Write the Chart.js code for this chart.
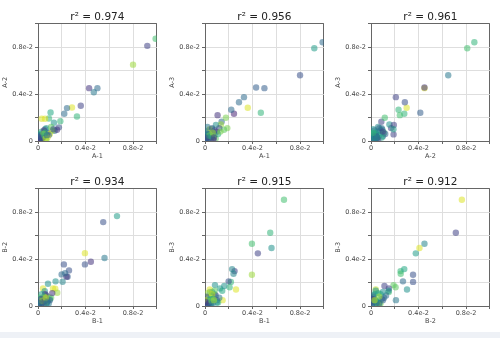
<!DOCTYPE html>
<html>
<head>
<meta charset="utf-8">
<script src="https://cdn.jsdelivr.net/npm/chart.js@4.4.1/dist/chart.umd.min.js"></script>
<style>
  html, body { margin: 0; padding: 0; background: #fff; }
  #page { position: relative; width: 500px; height: 338px; overflow: hidden; }
  .panel { position: absolute; width: 160px; height: 160px; }
  #band { position: absolute; left: 0; top: 332px; width: 500px; height: 6px; background: #eef1f6; }
</style>
</head>
<body>
<div id="page">
  <div class="panel" style="left:0px;top:0px"><canvas id="c0" width="160" height="160"></canvas></div>
  <div class="panel" style="left:167px;top:0px"><canvas id="c1" width="160" height="160"></canvas></div>
  <div class="panel" style="left:333px;top:0px"><canvas id="c2" width="160" height="160"></canvas></div>
  <div class="panel" style="left:0px;top:165px"><canvas id="c3" width="160" height="160"></canvas></div>
  <div class="panel" style="left:167px;top:165px"><canvas id="c4" width="160" height="160"></canvas></div>
  <div class="panel" style="left:333px;top:165px"><canvas id="c5" width="160" height="160"></canvas></div>
  <div id="band"></div>
</div>
<script>
// values are in units of 1e-2
const a1 = [0.99, 0.92, 0.80, 0.50, 0.43, 0.47, 0.36, 0.286, 0.244, 0.221, 0.328, 0.106, 0.14, 0.176, 0.188, 0.134, 0.16, 0.092, 0.031, 0.059,
  0.02, 0.05, 0.08, 0.03, 0.10, 0.06, 0.01, 0.04, 0.07, 0.12, 0.09, 0.02, 0.11, 0.05, 0.08, 0.03, 0.06, 0.13, 0.01, 0.07,
  0.01, 0.02, 0.03, 0.04, 0.015, 0.025, 0.045, 0.035, 0.005, 0.055, 0.065, 0.075];
const a2 = [0.87, 0.81, 0.65, 0.45, 0.45, 0.415, 0.30, 0.285, 0.28, 0.232, 0.209, 0.243, 0.087, 0.116, 0.169, 0.155, 0.096, 0.192, 0.19, 0.189,
  0.03, 0.04, 0.07, 0.08, 0.06, 0.10, 0.01, 0.02, 0.11, 0.09, 0.05, 0.06, 0.12, 0.09, 0.03, 0.05, 0.07, 0.10, 0.04, 0.01,
  0.02, 0.01, 0.04, 0.03, 0.05, 0.015, 0.06, 0.025, 0.035, 0.045, 0.02, 0.05];
const a3 = [0.84, 0.79, 0.56, 0.45, 0.455, 0.24, 0.283, 0.33, 0.232, 0.266, 0.373, 0.22, 0.164, 0.198, 0.11, 0.141, 0.096, 0.136, 0.056, 0.10,
  0.02, 0.06, 0.05, 0.09, 0.08, 0.04, 0.03, 0.10, 0.07, 0.11, 0.02, 0.12, 0.06, 0.03, 0.09, 0.05, 0.11, 0.08, 0.07, 0.01,
  0.015, 0.035, 0.02, 0.05, 0.03, 0.06, 0.01, 0.045, 0.025, 0.04, 0.07, 0.03];

const b1 = [0.665, 0.549, 0.56, 0.395, 0.445, 0.395, 0.218, 0.261, 0.199, 0.249, 0.24, 0.207, 0.148, 0.084, 0.042, 0.126, 0.145, 0.162, 0.057, 0.228,
  0.02, 0.05, 0.08, 0.03, 0.10, 0.06, 0.01, 0.04, 0.07, 0.11, 0.09, 0.02, 0.12, 0.05, 0.08, 0.03, 0.06, 0.10, 0.01, 0.07,
  0.01, 0.02, 0.03, 0.04, 0.015, 0.025, 0.045, 0.035, 0.005, 0.055, 0.065, 0.075];
const b2 = [0.765, 0.714, 0.408, 0.45, 0.377, 0.354, 0.354, 0.303, 0.269, 0.249, 0.25, 0.207, 0.21, 0.19, 0.15, 0.15, 0.148, 0.113, 0.127, 0.28,
  0.03, 0.05, 0.08, 0.02, 0.06, 0.10, 0.01, 0.04, 0.09, 0.07, 0.02, 0.06, 0.11, 0.08, 0.04, 0.10, 0.03, 0.05, 0.07, 0.01,
  0.015, 0.035, 0.02, 0.05, 0.03, 0.06, 0.01, 0.045, 0.025, 0.04, 0.07, 0.03];
const b3 = [0.904, 0.623, 0.493, 0.53, 0.448, 0.266, 0.205, 0.14, 0.21, 0.297, 0.275, 0.16, 0.05, 0.178, 0.12, 0.15, 0.13, 0.17, 0.09, 0.314,
  0.04, 0.02, 0.10, 0.08, 0.05, 0.12, 0.01, 0.14, 0.06, 0.03, 0.09, 0.11, 0.07, 0.02, 0.13, 0.05, 0.10, 0.03, 0.08, 0.06,
  0.02, 0.01, 0.04, 0.03, 0.05, 0.015, 0.06, 0.025, 0.035, 0.045, 0.02, 0.05];

// colour value (0..1 on viridis) of each point, per panel
const cA12 = [0.7, 0.2, 0.85, 0.35, 0.15, 0.4, 0.2, 0.95, 0.35, 0.35, 0.65, 0.6, 0.35, 0.25, 0.65, 0.5, 0.15, 0.65, 0.95, 0.95,
  0.3, 0.8, 0.1, 0.6, 0.9, 0.4, 0.2, 0.7, 0.5, 0.85, 0.3, 0.6, 0.75, 0.15, 0.95, 0.45, 0.65, 0.25, 0.55, 0.8,
  0.1, 0.25, 0.3, 0.2, 0.35, 0.15, 0.8, 0.3, 0.25, 0.7, 0.9, 0.35];
const cA13 = [0.35, 0.55, 0.25, 0.3, 0.3, 0.65, 0.95, 0.35, 0.1, 0.35, 0.35, 0.15, 0.35, 0.8, 0.8, 0.85, 0.75, 0.5, 0.3, 0.6,
  0.6, 0.2, 0.85, 0.4, 0.1, 0.7, 0.3, 0.95, 0.5, 0.25, 0.75, 0.4, 0.6, 0.9, 0.2, 0.55, 0.3, 0.8, 0.45, 0.1,
  0.3, 0.2, 0.35, 0.9, 0.15, 0.4, 0.25, 0.7, 0.3, 0.5, 0.85, 0.2];
const cA23 = [0.65, 0.7, 0.4, 0.95, 0.15, 0.3, 0.95, 0.25, 0.65, 0.65, 0.2, 0.7, 0.2, 0.7, 0.2, 0.5, 0.5, 0.2, 0.2, 0.55,
  0.5, 0.45, 0.6, 0.3, 0.55, 0.4, 0.25, 0.5, 0.65, 0.35, 0.5, 0.45, 0.3, 0.6, 0.4, 0.55, 0.35, 0.2, 0.5, 0.6,
  0.3, 0.45, 0.25, 0.55, 0.35, 0.6, 0.2, 0.4, 0.5, 0.3, 0.65, 0.45];
const cB12 = [0.55, 0.25, 0.4, 0.95, 0.15, 0.25, 0.25, 0.25, 0.35, 0.3, 0.15, 0.45, 0.5, 0.5, 0.95, 0.95, 0.95, 0.85, 0.5, 0.35,
  0.2, 0.7, 0.85, 0.3, 0.6, 0.1, 0.5, 0.9, 0.25, 0.75, 0.4, 0.65, 0.15, 0.8, 0.35, 0.55, 0.95, 0.3, 0.7, 0.45,
  0.25, 0.3, 0.15, 0.4, 0.6, 0.2, 0.35, 0.85, 0.3, 0.25, 0.9, 0.4];
const cB13 = [0.7, 0.65, 0.5, 0.7, 0.2, 0.85, 0.65, 0.95, 0.25, 0.2, 0.45, 0.65, 0.95, 0.5, 0.5, 0.55, 0.6, 0.5, 0.7, 0.45,
  0.8, 0.3, 0.6, 0.9, 0.15, 0.5, 0.7, 0.95, 0.35, 0.65, 0.2, 0.85, 0.4, 0.6, 0.75, 0.3, 0.9, 0.5, 0.25, 0.7,
  0.3, 0.2, 0.8, 0.35, 0.9, 0.25, 0.6, 0.3, 0.15, 0.75, 0.4, 0.85];
const cB23 = [0.95, 0.2, 0.95, 0.45, 0.55, 0.25, 0.25, 0.5, 0.35, 0.65, 0.7, 0.75, 0.4, 0.75, 0.7, 0.2, 0.5, 0.2, 0.35, 0.6,
  0.45, 0.35, 0.6, 0.25, 0.7, 0.5, 0.3, 0.9, 0.4, 0.55, 0.2, 0.65, 0.35, 0.8, 0.5, 0.3, 0.6, 0.45, 0.85, 0.4,
  0.3, 0.4, 0.25, 0.55, 0.35, 0.85, 0.2, 0.45, 0.3, 0.6, 0.35, 0.9];

const r2Values = ["0.974", "0.956", "0.961", "0.934", "0.915", "0.912"];

const panels = [
  { x: a1, y: a2, c: cA12, xl: "A-1", yl: "A-2" },
  { x: a1, y: a3, c: cA13, xl: "A-1", yl: "A-3" },
  { x: a2, y: a3, c: cA23, xl: "A-2", yl: "A-3" },
  { x: b1, y: b2, c: cB12, xl: "B-1", yl: "B-2" },
  { x: b1, y: b3, c: cB13, xl: "B-1", yl: "B-3" },
  { x: b2, y: b3, c: cB23, xl: "B-2", yl: "B-3" },
];

const viridis = ["#440154", "#482475", "#414487", "#355f8d", "#2a788e", "#21918c",
  "#22a884", "#44bf70", "#7ad151", "#bddf26", "#fde725"];

function hexRgb(h) {
  return [1, 3, 5].map(i => parseInt(h.slice(i, i + 2), 16));
}

function viridisColor(t, alpha) {
  const p = Math.max(0, Math.min(1, t)) * (viridis.length - 1);
  const i = Math.min(Math.floor(p), viridis.length - 2);
  const f = p - i;
  const a = hexRgb(viridis[i]), b = hexRgb(viridis[i + 1]);
  const rgb = a.map((v, k) => Math.round(v + (b[k] - v) * f));
  return `rgba(${rgb[0]},${rgb[1]},${rgb[2]},${alpha})`;
}

const FONT = "'DejaVu Sans', sans-serif";
const FRAME = "#666";
const GRID = "#dedede";

function axis(label, isY) {
  return {
    type: "linear",
    min: 0,
    max: 1,
    afterFit: s => { if (isY) s.width = 38; else s.height = 19; },
    grid: {
      color: ctx => (ctx.tick && (ctx.tick.value === 0 || ctx.tick.value === 1)) ? FRAME : GRID,
      lineWidth: 1,
      tickColor: FRAME,
      tickLength: 3,
    },
    border: { display: true, color: FRAME, width: 1 },
    ticks: {
      stepSize: 0.2,
      autoSkip: false,
      maxRotation: 0,
      padding: isY ? 2 : 0,
      color: "#444",
      font: { family: FONT, size: 6.5 },
      callback: (v, i) => i === 0 ? "0" : (i === 2 || i === 4) ? v.toFixed(1) + "e-2" : "",
    },
    title: {
      display: true,
      text: label,
      color: "#444",
      font: { family: FONT, size: 6.5 },
      padding: { top: 1, bottom: 0 },
    },
  };
}

panels.forEach((p, n) => {
  new Chart(document.getElementById("c" + n), {
    type: "scatter",
    data: {
      datasets: [{
        data: p.x.map((v, i) => ({ x: v, y: p.y[i] })),
        backgroundColor: ctx => viridisColor(p.c[ctx.dataIndex], 0.55),
        borderWidth: 0,
        pointRadius: 3.2,
        pointHoverRadius: 3.2,
        clip: 0,
      }]
    },
    options: {
      responsive: false,
      animation: false,
      devicePixelRatio: 1,
      layout: { padding: { left: 0, right: 3, top: 0, bottom: 0 } },
      plugins: {
        legend: { display: false },
        tooltip: { enabled: false },
        title: {
          display: true,
          fullSize: false,
          text: "r\u00b2 = " + r2Values[n],
          color: "#222",
          font: { family: FONT, size: 10.5, weight: "normal", lineHeight: 1 },
          padding: { top: 12, bottom: 1 },
        },
      },
      scales: {
        x: axis(p.xl, false),
        y: axis(p.yl, true),
      },
    },
  });
});
</script>
</body>
</html>
